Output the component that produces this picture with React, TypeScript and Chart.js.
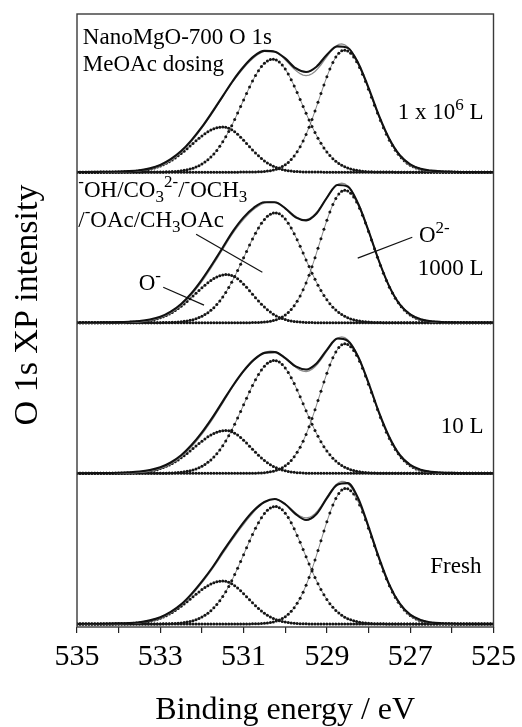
import { useEffect, useRef } from 'react';
import { Chart, registerables } from 'chart.js';

Chart.register(...registerables);

// ---------- data ----------
const energyGrid = [
  535, 534.5, 534, 533.75, 533.5, 533.25, 533, 532.75, 532.5, 532.25, 532,
  531.75, 531.5, 531.25, 531, 530.75, 530.5, 530.25, 530, 529.75, 529.5,
  529.25, 529, 528.75, 528.5, 528.25, 528, 527.75, 527.5, 527.25, 527,
  526.75, 526.5, 526.25, 526, 525.5, 525,
];

// measured O 1s spectra (thick line), intensity in panel units
const rawFresh = [
  0.001, 0.002, 0.004, 0.006, 0.012, 0.024, 0.045, 0.08, 0.13, 0.2, 0.283,
  0.375, 0.48, 0.58, 0.675, 0.755, 0.81, 0.83, 0.795, 0.73, 0.69, 0.73,
  0.835, 0.925, 0.935, 0.835, 0.645, 0.44, 0.26, 0.135, 0.062, 0.026, 0.01,
  0.005, 0.003, 0.001, 0.001,
];
const raw10L = [
  0.001, 0.002, 0.004, 0.007, 0.012, 0.022, 0.04, 0.072, 0.12, 0.188, 0.272,
  0.37, 0.478, 0.585, 0.68, 0.755, 0.8, 0.805, 0.765, 0.71, 0.69, 0.73,
  0.82, 0.895, 0.88, 0.775, 0.6, 0.405, 0.24, 0.122, 0.056, 0.024, 0.01,
  0.005, 0.003, 0.001, 0.001,
];
const raw1000L = [
  0.001, 0.002, 0.004, 0.007, 0.012, 0.022, 0.04, 0.074, 0.125, 0.197, 0.287,
  0.39, 0.5, 0.61, 0.7, 0.765, 0.8, 0.8, 0.76, 0.7, 0.68, 0.725,
  0.83, 0.915, 0.905, 0.79, 0.61, 0.41, 0.24, 0.122, 0.056, 0.024, 0.01,
  0.005, 0.003, 0.001, 0.001,
];
const raw1e6L = [
  0.001, 0.002, 0.004, 0.007, 0.013, 0.025, 0.048, 0.086, 0.14, 0.213, 0.3,
  0.4, 0.505, 0.61, 0.7, 0.77, 0.805, 0.8, 0.755, 0.69, 0.665, 0.7,
  0.78, 0.835, 0.825, 0.725, 0.56, 0.375, 0.22, 0.112, 0.052, 0.022, 0.01,
  0.005, 0.003, 0.001, 0.001,
];

// fitted components (bottom panel first): O-, OH/CO3/OCH3/OAc, O2-
const panelNames = ['Fresh', '10 L', '1000 L', '1 x 10^6 L'];
const oMinusCenter = [531.5, 531.43, 531.4, 531.5];
const oMinusHeight = [0.285, 0.285, 0.32, 0.3];
const hydroxylCenter = [530.24, 530.26, 530.24, 530.3];
const hydroxylHeight = [0.78, 0.75, 0.73, 0.75];
const oxideCenter = [528.55, 528.57, 528.57, 528.58];
const oxideHeight = [0.9, 0.86, 0.88, 0.81];
// Gaussian widths (eV): [high binding energy side, low binding energy side]
const oMinusWidth = [0.75, 0.6];
const hydroxylWidth = [0.74, 0.7];
const oxideWidth = [0.6, 0.66];

const xTicksMin = 525;
const xTicksMax = 535;

// ---------- helpers ----------
const rawSets = [rawFresh, raw10L, raw1000L, raw1e6L];
const fineGrid = Array.from({ length: 141 }, (_, i) => xTicksMax - (i * (xTicksMax - xTicksMin)) / 140);

function peak(x: number, c: number, h: number, w: number[]) {
  const s = x >= c ? w[0] : w[1];
  return h * Math.exp(-((x - c) * (x - c)) / (2 * s * s));
}

const SERIF = '"Liberation Serif", "Times New Roman", serif';

type Seg = { t: string; m?: 'sup' | 'sub' };

function drawRich(ctx: CanvasRenderingContext2D, segs: Seg[], x: number, y: number, align: 'left' | 'right', size: number) {
  const small = Math.round(size * 0.72);
  const fontFor = (s: Seg) => `${s.m ? small : size}px ${SERIF}`;
  let total = 0;
  const widths = segs.map((s) => {
    ctx.font = fontFor(s);
    const w = ctx.measureText(s.t).width;
    total += w;
    return w;
  });
  let cx = align === 'left' ? x : x - total;
  ctx.textAlign = 'left';
  ctx.textBaseline = 'alphabetic';
  segs.forEach((s, i) => {
    ctx.font = fontFor(s);
    const dy = s.m === 'sup' ? -size * 0.42 : s.m === 'sub' ? size * 0.22 : 0;
    ctx.fillText(s.t, cx, y + dy);
    cx += widths[i];
  });
}

// annotation layout (data coordinates)
const annotations: { segs: Seg[]; x: number; y: number; align: 'left' | 'right' }[] = [
  { segs: [{ t: 'NanoMgO-700 O 1s' }], x: 534.86, y: 3.85, align: 'left' },
  { segs: [{ t: 'MeOAc dosing' }], x: 534.86, y: 3.672, align: 'left' },
  { segs: [{ t: '1 x 10' }, { t: '6', m: 'sup' }, { t: ' L' }], x: 525.24, y: 3.35, align: 'right' },
  {
    segs: [{ t: '-', m: 'sup' }, { t: 'OH/CO' }, { t: '3', m: 'sub' }, { t: '2-', m: 'sup' }, { t: '/' }, { t: '-', m: 'sup' }, { t: 'OCH' }, { t: '3', m: 'sub' }],
    x: 534.97, y: 2.835, align: 'left',
  },
  {
    segs: [{ t: '/' }, { t: '-', m: 'sup' }, { t: 'OAc/CH' }, { t: '3', m: 'sub' }, { t: 'OAc' }],
    x: 534.97, y: 2.637, align: 'left',
  },
  { segs: [{ t: 'O' }, { t: '-', m: 'sup' }], x: 533.52, y: 2.216, align: 'left' },
  { segs: [{ t: 'O' }, { t: '2-', m: 'sup' }], x: 526.79, y: 2.535, align: 'left' },
  { segs: [{ t: '1000 L' }], x: 525.24, y: 2.316, align: 'right' },
  { segs: [{ t: '10 L' }], x: 525.24, y: 1.267, align: 'right' },
  { segs: [{ t: 'Fresh' }], x: 525.29, y: 0.338, align: 'right' },
];

const leaders = [
  [532.93, 2.236, 531.95, 2.117],
  [532.14, 2.588, 530.55, 2.336],
  [526.95, 2.568, 528.26, 2.429],
];

const overlay = {
  id: 'overlay',
  afterDatasetsDraw(chart: any) {
    const { ctx, chartArea, scales } = chart;
    const xs = scales.x;
    const ys = scales.y;
    ctx.save();
    ctx.strokeStyle = '#3a3a3a';
    ctx.lineWidth = 1.4;
    ctx.strokeRect(chartArea.left, chartArea.top, chartArea.right - chartArea.left, chartArea.bottom - chartArea.top);

    ctx.strokeStyle = '#111';
    ctx.lineWidth = 1.2;
    leaders.forEach(([x1, y1, x2, y2]) => {
      ctx.beginPath();
      ctx.moveTo(xs.getPixelForValue(x1), ys.getPixelForValue(y1));
      ctx.lineTo(xs.getPixelForValue(x2), ys.getPixelForValue(y2));
      ctx.stroke();
    });

    ctx.fillStyle = '#000';
    annotations.forEach((a) => {
      drawRich(ctx, a.segs, xs.getPixelForValue(a.x), ys.getPixelForValue(a.y), a.align, 23);
    });

    // axis titles
    ctx.font = `32px ${SERIF}`;
    ctx.textAlign = 'center';
    ctx.textBaseline = 'alphabetic';
    ctx.fillText('Binding energy / eV', (chartArea.left + chartArea.right) / 2, chartArea.bottom + 92);

    ctx.save();
    ctx.translate(chartArea.left - 40, chartArea.top + 291);
    ctx.rotate(-Math.PI / 2);
    ctx.font = `34px ${SERIF}`;
    ctx.fillText('O 1s XP intensity', 0, 0);
    ctx.restore();

    ctx.restore();
  },
};

export default function App() {
  const canvasRef = useRef<HTMLCanvasElement | null>(null);

  useEffect(() => {
    const canvas = canvasRef.current;
    if (!canvas) return;
    const datasets: any[] = [];
    for (let p = 0; p < 4; p++) {
      const comps = [
        (x: number) => peak(x, oMinusCenter[p], oMinusHeight[p], oMinusWidth),
        (x: number) => peak(x, hydroxylCenter[p], hydroxylHeight[p], hydroxylWidth),
        (x: number) => peak(x, oxideCenter[p], oxideHeight[p], oxideWidth),
      ];
      comps.forEach((f, k) => {
        datasets.push({
          label: `${panelNames[p]} component ${k + 1}`,
          data: fineGrid.map((x) => ({ x, y: p + f(x) })),
          borderColor: '#555',
          borderWidth: 0.7,
          pointRadius: 1.5,
          pointBackgroundColor: '#151515',
          pointBorderWidth: 0,
          showLine: true,
          order: 3,
        });
      });
      datasets.push({
        label: `${panelNames[p]} fit`,
        data: fineGrid.map((x) => ({ x, y: p + comps.reduce((s, f) => s + f(x), 0) })),
        borderColor: '#8c8c8c',
        borderWidth: 1.3,
        pointRadius: 0,
        showLine: true,
        order: 2,
      });
      datasets.push({
        label: `${panelNames[p]} data`,
        data: energyGrid.map((x, i) => ({ x, y: p + rawSets[p][i] })),
        borderColor: '#111',
        borderWidth: 2.1,
        pointRadius: 0,
        showLine: true,
        cubicInterpolationMode: 'monotone',
        order: 1,
      });
    }

    const chart = new Chart(canvas, {
      type: 'scatter',
      data: { datasets },
      options: {
        animation: false,
        responsive: false,
        events: [],
        layout: { padding: { top: 14, right: 25, left: 0, bottom: 0 } },
        plugins: { legend: { display: false }, tooltip: { enabled: false } },
        scales: {
          x: {
            type: 'linear',
            reverse: true,
            min: xTicksMin,
            max: xTicksMax,
            afterFit: (s: any) => {
              s.height = 100;
            },
            border: { display: false },
            grid: { drawOnChartArea: false, drawTicks: true, tickLength: 6, color: '#222', lineWidth: 1.2 },
            ticks: {
              stepSize: 1,
              autoSkip: false,
              maxRotation: 0,
              padding: 6,
              color: '#000',
              font: { family: SERIF, size: 30 },
              callback: (v: any) => (Math.round(Number(v)) % 2 === 1 ? String(v) : ''),
            },
          },
          y: {
            type: 'linear',
            min: -0.02,
            max: 4.05,
            afterFit: (s: any) => {
              s.width = 77;
            },
            border: { display: false },
            grid: { display: false },
            ticks: { display: false },
          },
        },
      },
      plugins: [overlay],
    });
    return () => chart.destroy();
  }, []);

  return (
    <div style={{ position: 'absolute', left: 0, top: 0, width: 522, height: 727, background: '#fff' }}>
      <canvas ref={canvasRef} width={522} height={727} />
    </div>
  );
}
